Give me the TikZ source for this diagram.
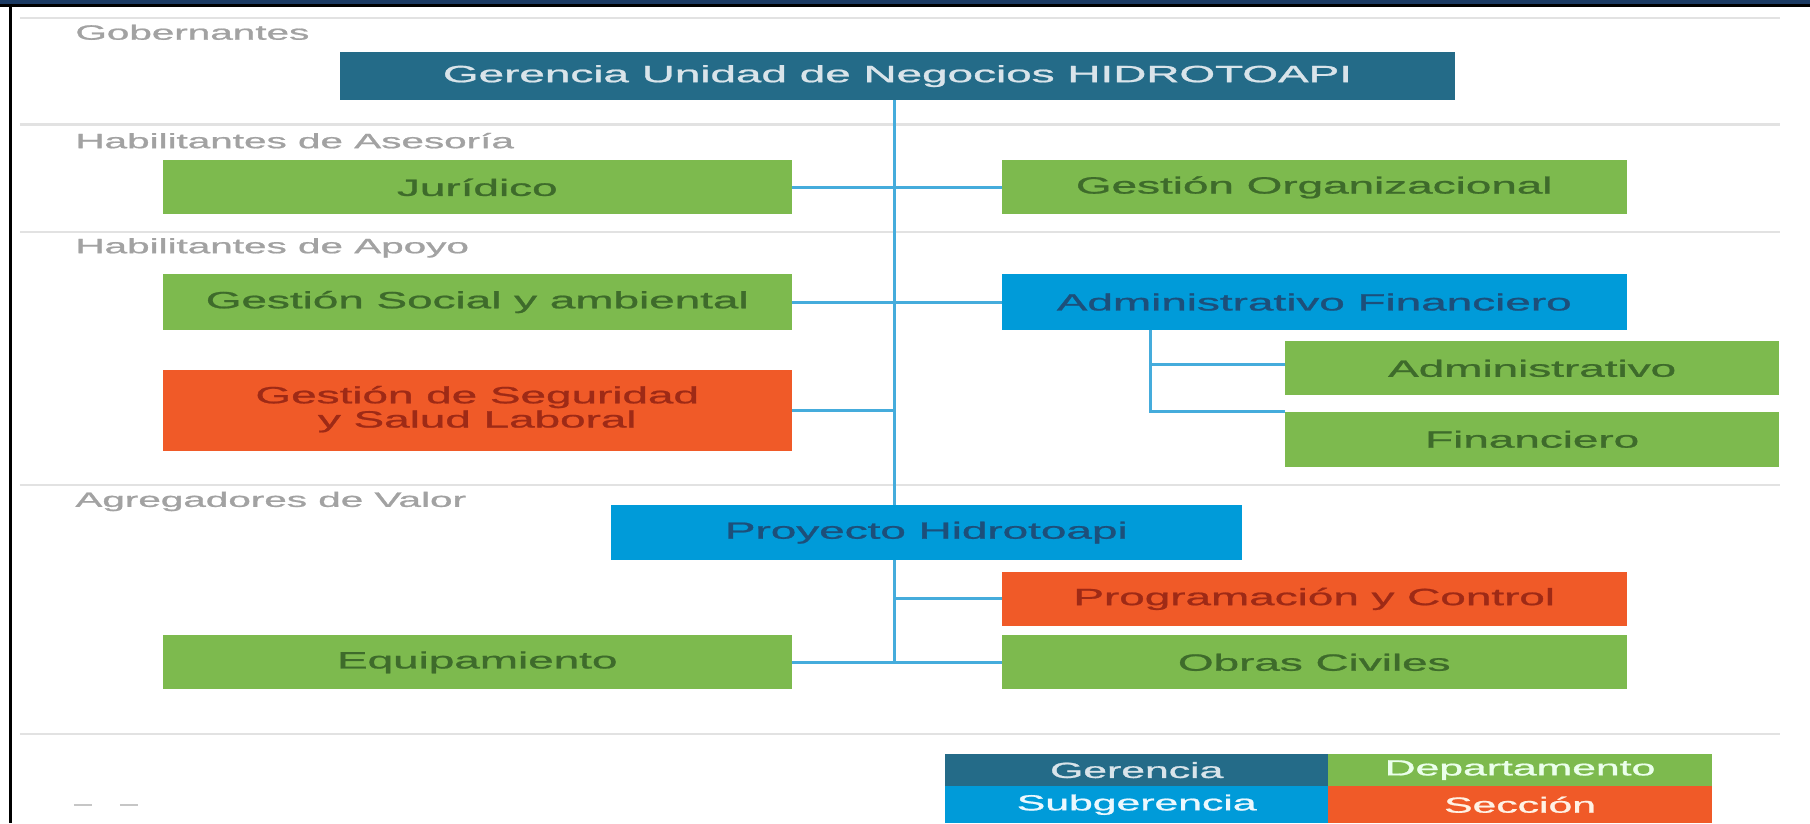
\documentclass[tikz,border=0pt]{standalone}
\usepackage{fontspec}
\setmainfont{Liberation Sans}
\newfontfamily\heavyfont{Liberation Sans}[FakeBold=0.9]
\usepackage{graphicx}
\definecolor{cnavy}{HTML}{1B3A63}
\definecolor{cger}{HTML}{246B88}
\definecolor{cgreen}{HTML}{7DBA4E}
\definecolor{cblue}{HTML}{009BD9}
\definecolor{corange}{HTML}{F05A28}
\definecolor{cconn}{HTML}{45ACDC}
\definecolor{csep}{HTML}{E2E2E2}
\definecolor{clab}{HTML}{A2A2A2}
\definecolor{tger}{HTML}{D9E4EA}
\definecolor{tgreen}{HTML}{3E6B2B}
\definecolor{tblue}{HTML}{1D4F7A}
\definecolor{torange}{HTML}{9E2A16}
\newcommand\wtxt[1]{\scalebox{1.95}[1]{#1}}
\tikzset{
  box/.style={fill=#1, inner sep=0pt, outer sep=0pt, anchor=center, align=center,
    font=\heavyfont\fontsize{10.2}{10.8}\selectfont},
  legbox/.style={fill=#1, inner sep=0pt, outer sep=0pt, anchor=center,
    font=\heavyfont\fontsize{9.5}{11}\selectfont},
  lab/.style={anchor=west, inner sep=0pt, text=clab, font=\heavyfont\fontsize{9}{11}\selectfont},
  conn/.style={draw=cconn, line width=1.3pt},
  sepline/.style={draw=csep, line width=0.9pt},
  dashmk/.style={draw=gray!45, line width=0.8pt}
}
\begin{document}
\begin{tikzpicture}[x=0.5pt,y=-0.5pt]
\useasboundingbox (0,0) rectangle (1570,714);
% frame
\fill[cnavy] (0,0) rectangle (1570,3.6);
\fill[black] (0,3.6) rectangle (1570,6);
\fill[black] (7.8,6) rectangle (10.3,714);
% separators
\foreach \yy in {15.6,108,201,421,637} \draw[sepline] (17,\yy) -- (1544,\yy);
% level labels
\node[lab] (lgob) at (65,28) {\wtxt{Gobernantes}};
\node[lab] (lase) at (65,122) {\wtxt{Habilitantes de Asesoría}};
\node[lab] (lapo) at (65,215) {\wtxt{Habilitantes de Apoyo}};
\node[lab] (lagr) at (65,435) {\wtxt{Agregadores de Valor}};
% boxes
\node[box=cger, text=tger, minimum width=483.5pt, minimum height=21pt] (ger) at (778.5,66) {\wtxt{Gerencia Unidad de Negocios HIDROTOAPI}};
\node[box=cgreen, text=tgreen, minimum width=273pt, minimum height=23.5pt] (jur) at (414,162.5) {\wtxt{Jurídico}};
\node[box=cgreen, text=tgreen, minimum width=271pt, minimum height=23.5pt] (gorg) at (1140,162.5) {\wtxt{Gestión Organizacional}};
\node[box=cgreen, text=tgreen, minimum width=273pt, minimum height=24pt] (gsoc) at (414,262) {\wtxt{Gestión Social y ambiental}};
\node[box=cblue, text=tblue, minimum width=271pt, minimum height=24pt] (adfin) at (1140,262) {\wtxt{Administrativo Financiero}};
\node[box=corange, text=torange, minimum width=273pt, minimum height=35pt] (gseg) at (414,356) {\raisebox{-1.5pt}{\wtxt{\begin{tabular}{@{}c@{}}Gestión de Seguridad\\[-0.3pt] y Salud Laboral\end{tabular}}}};
\node[box=cgreen, text=tgreen, minimum width=214pt, minimum height=23.5pt] (adm) at (1329,319.5) {\wtxt{Administrativo}};
\node[box=cgreen, text=tgreen, minimum width=214pt, minimum height=24pt] (fin) at (1329,381) {\wtxt{Financiero}};
\node[box=cblue, text=tblue, minimum width=273.5pt, minimum height=24pt] (proy) at (803.5,462) {\wtxt{Proyecto Hidrotoapi}};
\node[box=corange, text=torange, minimum width=271pt, minimum height=23.5pt] (prog) at (1140,519.5) {\wtxt{Programación y Control}};
\node[box=cgreen, text=tgreen, minimum width=273pt, minimum height=23.5pt] (equ) at (414,574.5) {\wtxt{Equipamiento}};
\node[box=cgreen, text=tgreen, minimum width=271pt, minimum height=23.5pt] (obras) at (1140,574.5) {\wtxt{Obras Civiles}};
% connectors
\coordinate (sx) at (776,0);
\coordinate (ax) at (998,0);
\draw[conn] (ger.south -| sx) -- (proy.north -| sx);
\draw[conn] (jur.east) -- (gorg.west);
\draw[conn] (gsoc.east) -- (adfin.west);
\draw[conn] (gseg.east) -- (gseg.east -| sx);
\draw[conn] (proy.south -| sx) -- (equ.east -| sx);
\draw[conn] (prog.west) -- (prog.west -| sx);
\draw[conn] (equ.east) -- (obras.west);
\draw[conn] (adfin.south -| ax) |- (fin.north west);
\draw[conn] ([yshift=1.7pt]adm.west) -- ([yshift=1.7pt]adm.west -| ax);
% legend
\node[legbox=cger, text=tger, minimum width=166pt, minimum height=14pt] (lg1) at (986,668) {\wtxt{Gerencia}};
\node[legbox=cgreen, text=green!8!white, minimum width=166.5pt, minimum height=14pt] (lg2) at (1318.5,668) {\wtxt{Departamento}};
\node[legbox=cblue, text=cyan!8!white, minimum width=166pt, minimum height=16pt] (lg3) at (986,698) {\wtxt{Subgerencia}};
\node[legbox=corange, text=orange!10!white, minimum width=166.5pt, minimum height=16pt] (lg4) at (1318.5,698) {\wtxt{Sección}};
% faint marks bottom left
\draw[dashmk] (64,698) -- (80,698);
\draw[dashmk] (104,698) -- (120,698);
\end{tikzpicture}
\end{document}
